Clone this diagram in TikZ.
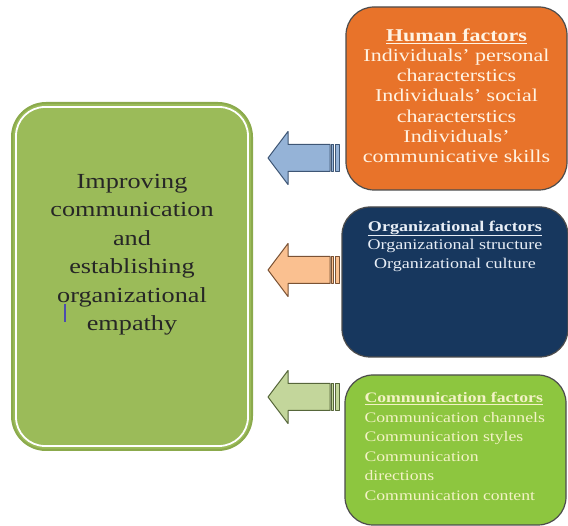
\documentclass[tikz,border=0pt]{standalone}
\usepackage{fontspec}
\setmainfont{Liberation Serif}
\newfontfamily\widefont[FakeStretch=1.22]{Liberation Serif}
\usetikzlibrary{positioning,calc}

\definecolor{mainfill}{HTML}{9BBB59}
\definecolor{mainedge}{HTML}{8BAA4C}
\definecolor{humanfill}{HTML}{E8732A}
\definecolor{orgfill}{HTML}{17375E}
\definecolor{commfill}{HTML}{8DC63F}
\definecolor{humantext}{HTML}{FFF3E3}
\definecolor{orgtext}{HTML}{E8EEF6}
\definecolor{commtext}{HTML}{F3F2C6}
\definecolor{arrblue}{HTML}{95B3D7}
\definecolor{arrblueline}{HTML}{3E5675}
\definecolor{arrpeach}{HTML}{FAC090}
\definecolor{arrpeachline}{HTML}{7A5234}
\definecolor{arrgreen}{HTML}{C3D69B}
\definecolor{arrgreenline}{HTML}{56663A}

\begin{document}
\begin{tikzpicture} [
        x = 1pt, y = -1pt,
        every node/.style = { inner sep = 0, font = \widefont },
        factor/.style = { draw = black!70, line width = 1.2pt, rounded corners = 28pt },
        blockarrow/.style = { line width = 1pt, line join = round },
        cursorline/.style = { draw = blue!55!black!70, line width = 1.5pt }
        ]
        \useasboundingbox (0,0) rectangle (568,526);

        % central box
        \node [fill = mainfill, draw = mainedge, line width = 2pt, rounded corners = 34pt,
            minimum width = 240pt, minimum height = 347pt] (main) at (132,276.5) {};
        \draw [white, line width = 1.8pt, rounded corners = 29pt]
            ($(main.north west)+(5,5)$) rectangle ($(main.south east)+(-5,-5)$);
        \node [below = 72pt of main.north, align = center, text = black!85,
            font = \widefont\fontsize{21.5}{28.5}\selectfont] (maintxt)
            {Improving\\ communication\\ and\\ establishing\\ organizational\\ empathy};
        \draw [cursorline] (65,304) -- (65,322);

        % factor boxes
        \node [factor, fill = humanfill, minimum width = 221pt, minimum height = 183pt] (human) at (456.5,98.5) {};
        \node [factor, fill = orgfill, minimum width = 226pt, minimum height = 150pt] (org) at (455,282) {};
        \node [factor, fill = commfill, minimum width = 221pt, minimum height = 150pt] (comm) at (455.5,450) {};

        \node [below = 22pt of human.north, align = center, text = humantext,
            font = \widefont\fontsize{18}{20.2}\selectfont] (humantxt)
            {\textbf{\underline{Human factors}}\\ Individuals’ personal\\ characterstics\\
             Individuals’ social\\ characterstics\\ Individuals’\\ communicative skills};
        \node [below = 14pt of org.north, align = center, text = orgtext,
            font = \widefont\fontsize{14.8}{18.5}\selectfont] (orgtxt)
            {\textbf{\underline{Organizational factors}}\\ Organizational structure\\ Organizational culture};
        \node [below right = 18pt and 20pt of comm.north west, align = left, text = commtext,
            font = \widefont\fontsize{14.5}{19.5}\selectfont] (commtxt)
            {\textbf{\underline{Communication factors}}\\ Communication channels\\ Communication styles\\
             Communication\\ directions\\ Communication content};

        % striped arrows
        \foreach \ay/\af/\ad in {158/arrblue/arrblueline, 270/arrpeach/arrpeachline, 397/arrgreen/arrgreenline} {
            \draw [blockarrow, fill = \af, draw = \ad] (268,\ay) -- ++(20,-26.5) -- ++(0,13) -- ++(42,0)
                -- ++(0,27) -- ++(-42,0) -- ++(0,13) -- cycle;
            \draw [blockarrow, fill = \af, draw = \ad] (331.5,\ay-13.5) rectangle ++(2,27);
            \draw [blockarrow, fill = \af, draw = \ad] (335,\ay-13.5) rectangle ++(4,27);
        }
    \end{tikzpicture}
\end{document}
